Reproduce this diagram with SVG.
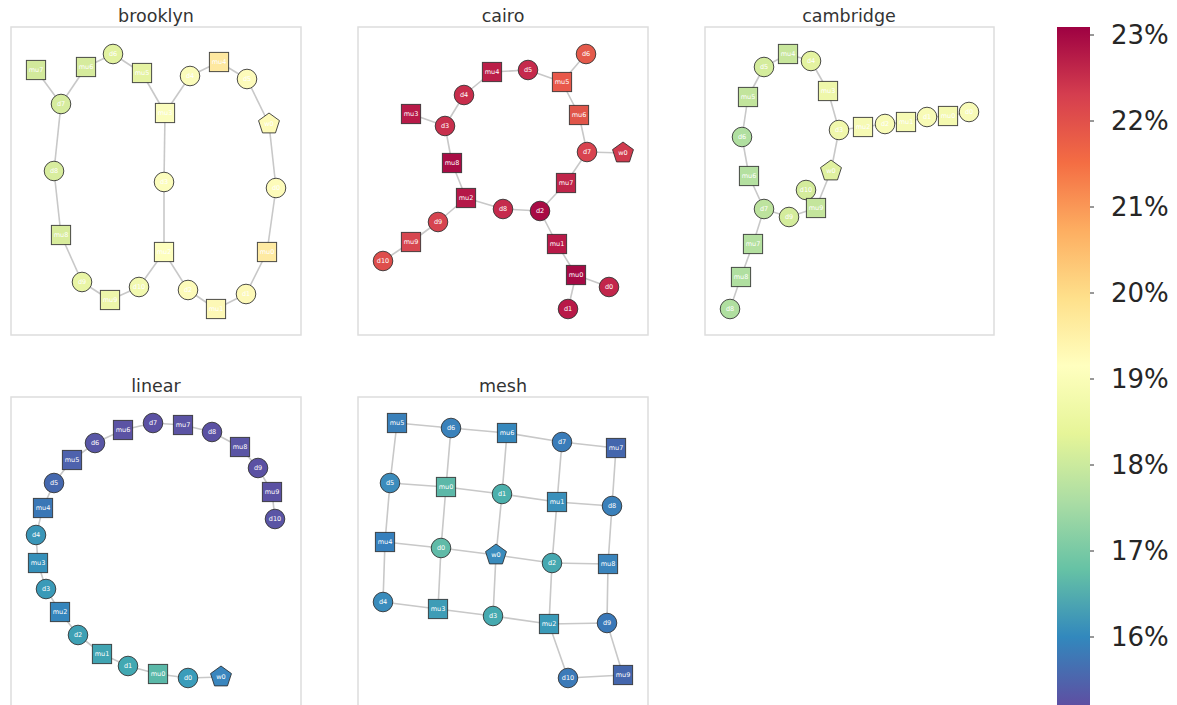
<svg xmlns="http://www.w3.org/2000/svg" width="1177" height="705" viewBox="0 0 1177 705">
<style>
.frame{fill:none;stroke:#dddddd;stroke-width:1.5}
.title{font-family:"DejaVu Sans",sans-serif;font-size:17.5px;fill:#333333;text-anchor:middle}
.e{stroke:#c8c8c8;stroke-width:1.6;fill:none}
.n use{stroke:#2b2b2b;stroke-width:1;stroke-opacity:0.85}
.n text{font-family:"DejaVu Sans",sans-serif;font-size:6.5px;fill:#ffffff;text-anchor:middle;dominant-baseline:central}
.tick{stroke:#333333;stroke-width:1}
.cbl{font-family:"DejaVu Sans",sans-serif;font-size:26px;fill:#262626}
</style>
<defs>
<rect id="sq" x="-9.6" y="-9.6" width="19.2" height="19.2"/>
<circle id="ci" r="9.8"/>
<polygon id="pe" points="0,-11 10.46,-3.4 6.47,8.9 -6.47,8.9 -10.46,-3.4"/>
<linearGradient id="spectral" gradientUnits="userSpaceOnUse" x1="0" y1="27" x2="0" y2="705">
<stop offset="0" stop-color="#9e0142"/>
<stop offset="0.1" stop-color="#d53e4f"/>
<stop offset="0.2" stop-color="#f46d43"/>
<stop offset="0.3" stop-color="#fdae61"/>
<stop offset="0.4" stop-color="#fee08b"/>
<stop offset="0.5" stop-color="#ffffbf"/>
<stop offset="0.6" stop-color="#e6f598"/>
<stop offset="0.7" stop-color="#abdda4"/>
<stop offset="0.8" stop-color="#66c2a5"/>
<stop offset="0.9" stop-color="#3288bd"/>
<stop offset="1" stop-color="#5e4fa2"/>
</linearGradient>
</defs>
<rect x="0" y="0" width="1177" height="705" fill="#ffffff"/>

<g id="panels">
<rect class="frame" x="11" y="27" width="290" height="308"/>
<text class="title" x="156" y="22">brooklyn</text>
<rect class="frame" x="358" y="27" width="290" height="308"/>
<text class="title" x="503" y="22">cairo</text>
<rect class="frame" x="705" y="27" width="289" height="308"/>
<text class="title" x="849" y="22">cambridge</text>
<rect class="frame" x="11" y="397" width="290" height="320"/>
<text class="title" x="156" y="392">linear</text>
<rect class="frame" x="358" y="397" width="290" height="320"/>
<text class="title" x="503" y="392">mesh</text>
</g>

<g id="connectors">
<!-- brooklyn -->
<line class="e" x1="36" y1="70" x2="61" y2="104"/>
<line class="e" x1="86" y1="67" x2="61" y2="104"/>
<line class="e" x1="86" y1="67" x2="113" y2="54"/>
<line class="e" x1="113" y1="54" x2="142" y2="73"/>
<line class="e" x1="142" y1="73" x2="165" y2="113"/>
<line class="e" x1="165" y1="113" x2="190" y2="76"/>
<line class="e" x1="190" y1="76" x2="219" y2="62"/>
<line class="e" x1="219" y1="62" x2="247" y2="79"/>
<line class="e" x1="247" y1="79" x2="269" y2="124"/>
<line class="e" x1="269" y1="124" x2="276" y2="188"/>
<line class="e" x1="276" y1="188" x2="267" y2="252"/>
<line class="e" x1="267" y1="252" x2="246" y2="294"/>
<line class="e" x1="246" y1="294" x2="216" y2="309"/>
<line class="e" x1="216" y1="309" x2="188" y2="290"/>
<line class="e" x1="188" y1="290" x2="164" y2="252"/>
<line class="e" x1="164" y1="252" x2="164" y2="182"/>
<line class="e" x1="164" y1="182" x2="165" y2="113"/>
<line class="e" x1="164" y1="252" x2="139" y2="287"/>
<line class="e" x1="139" y1="287" x2="110" y2="300"/>
<line class="e" x1="110" y1="300" x2="82" y2="282"/>
<line class="e" x1="82" y1="282" x2="61" y2="235"/>
<line class="e" x1="61" y1="235" x2="54" y2="171"/>
<line class="e" x1="54" y1="171" x2="61" y2="104"/>
<!-- cairo -->
<line class="e" x1="586" y1="54" x2="562" y2="82"/>
<line class="e" x1="562" y1="82" x2="528" y2="70"/>
<line class="e" x1="528" y1="70" x2="492" y2="72"/>
<line class="e" x1="492" y1="72" x2="464" y2="95"/>
<line class="e" x1="464" y1="95" x2="445" y2="126"/>
<line class="e" x1="445" y1="126" x2="411" y2="114"/>
<line class="e" x1="445" y1="126" x2="452" y2="163"/>
<line class="e" x1="452" y1="163" x2="466" y2="198"/>
<line class="e" x1="466" y1="198" x2="503" y2="209"/>
<line class="e" x1="503" y1="209" x2="540" y2="211"/>
<line class="e" x1="540" y1="211" x2="566" y2="183"/>
<line class="e" x1="566" y1="183" x2="587" y2="152"/>
<line class="e" x1="587" y1="152" x2="579" y2="115"/>
<line class="e" x1="579" y1="115" x2="562" y2="82"/>
<line class="e" x1="587" y1="152" x2="623" y2="153"/>
<line class="e" x1="540" y1="211" x2="557" y2="244"/>
<line class="e" x1="557" y1="244" x2="576" y2="275"/>
<line class="e" x1="576" y1="275" x2="609" y2="287"/>
<line class="e" x1="576" y1="275" x2="568" y2="309"/>
<line class="e" x1="466" y1="198" x2="438" y2="222"/>
<line class="e" x1="438" y1="222" x2="411" y2="242"/>
<line class="e" x1="411" y1="242" x2="383" y2="261"/>
<!-- cambridge -->
<line class="e" x1="788" y1="54" x2="764" y2="67"/>
<line class="e" x1="788" y1="54" x2="811" y2="61"/>
<line class="e" x1="811" y1="61" x2="828" y2="91"/>
<line class="e" x1="828" y1="91" x2="839" y2="130"/>
<line class="e" x1="839" y1="130" x2="863" y2="127"/>
<line class="e" x1="863" y1="127" x2="885" y2="124"/>
<line class="e" x1="885" y1="124" x2="906" y2="122"/>
<line class="e" x1="906" y1="122" x2="927" y2="117"/>
<line class="e" x1="927" y1="117" x2="948" y2="116"/>
<line class="e" x1="948" y1="116" x2="969" y2="112"/>
<line class="e" x1="764" y1="67" x2="748" y2="97"/>
<line class="e" x1="748" y1="97" x2="742" y2="137"/>
<line class="e" x1="742" y1="137" x2="749" y2="176"/>
<line class="e" x1="749" y1="176" x2="764" y2="209"/>
<line class="e" x1="764" y1="209" x2="789" y2="217"/>
<line class="e" x1="789" y1="217" x2="816" y2="208"/>
<line class="e" x1="816" y1="208" x2="831" y2="171"/>
<line class="e" x1="831" y1="171" x2="839" y2="130"/>
<line class="e" x1="816" y1="208" x2="806" y2="190"/>
<line class="e" x1="764" y1="209" x2="753" y2="244"/>
<line class="e" x1="753" y1="244" x2="741" y2="277"/>
<line class="e" x1="741" y1="277" x2="730" y2="309"/>
<!-- linear -->
<polyline class="e" points="221,677 188,678 158,674 128,666 102,654 78,635 60,612 46,589 38,563 36,535 43,508 54,483 72,460 95,443 123,430 153,423 183,425 212,432 240,447 258,468 272,492 275,519"/>
<!-- mesh -->
<polyline class="e" points="397,423 451,428 507,433 562,442 616,448"/>
<polyline class="e" points="390,483 446,487 502,494 557,502 612,506"/>
<polyline class="e" points="385,542 441,548 496,555 552,563 608,564"/>
<polyline class="e" points="383,602 438,609 493,616 549,624 607,623"/>
<line class="e" x1="568" y1="678" x2="623" y2="675"/>
<polyline class="e" points="397,423 390,483 385,542 383,602"/>
<polyline class="e" points="451,428 446,487 441,548 438,609"/>
<polyline class="e" points="507,433 502,494 496,555 493,616"/>
<polyline class="e" points="562,442 557,502 552,563 549,624 568,678"/>
<polyline class="e" points="616,448 612,506 608,564 607,623 623,675"/>
</g>

<g id="brooklyn-nodes" class="n">
<g id="brooklyn-mu7" transform="translate(36,70)"><use href="#sq" fill="#d2e99b"/><text>mu7</text></g>
<g id="brooklyn-mu6" transform="translate(86,67)"><use href="#sq" fill="#d6eb9d"/><text>mu6</text></g>
<g id="brooklyn-d6" transform="translate(113,54)"><use href="#ci" fill="#e2f2a0"/><text>d6</text></g>
<g id="brooklyn-mu5" transform="translate(142,73)"><use href="#sq" fill="#e5f3a2"/><text>mu5</text></g>
<g id="brooklyn-mu3" transform="translate(165,113)"><use href="#sq" fill="#fbfdbe"/><text>mu3</text></g>
<g id="brooklyn-d7" transform="translate(61,104)"><use href="#ci" fill="#d6ec9e"/><text>d7</text></g>
<g id="brooklyn-d8" transform="translate(54,171)"><use href="#ci" fill="#d8ed9e"/><text>d8</text></g>
<g id="brooklyn-mu8" transform="translate(61,235)"><use href="#sq" fill="#d8ec9c"/><text>mu8</text></g>
<g id="brooklyn-d9" transform="translate(82,282)"><use href="#ci" fill="#e9f5a5"/><text>d9</text></g>
<g id="brooklyn-mu9" transform="translate(110,300)"><use href="#sq" fill="#edf7aa"/><text>mu9</text></g>
<g id="brooklyn-d10" transform="translate(139,287)"><use href="#ci" fill="#f2f9b0"/><text>d10</text></g>
<g id="brooklyn-mu2" transform="translate(164,252)"><use href="#sq" fill="#fdfebe"/><text>mu2</text></g>
<g id="brooklyn-d3" transform="translate(164,182)"><use href="#ci" fill="#fcfdbd"/><text>d3</text></g>
<g id="brooklyn-d2" transform="translate(188,290)"><use href="#ci" fill="#fdfbba"/><text>d2</text></g>
<g id="brooklyn-mu1" transform="translate(216,309)"><use href="#sq" fill="#fdf8b6"/><text>mu1</text></g>
<g id="brooklyn-d1" transform="translate(246,294)"><use href="#ci" fill="#fdf9b8"/><text>d1</text></g>
<g id="brooklyn-mu0" transform="translate(267,252)"><use href="#sq" fill="#feeaa2"/><text>mu0</text></g>
<g id="brooklyn-d0" transform="translate(276,188)"><use href="#ci" fill="#fdfbba"/><text>d0</text></g>
<g id="brooklyn-w0" transform="translate(269,124)"><use href="#pe" fill="#fdfab8"/><text>w0</text></g>
<g id="brooklyn-d5" transform="translate(247,79)"><use href="#ci" fill="#fdfbbb"/><text>d5</text></g>
<g id="brooklyn-mu4" transform="translate(219,62)"><use href="#sq" fill="#fee8a0"/><text>mu4</text></g>
<g id="brooklyn-d4" transform="translate(190,76)"><use href="#ci" fill="#fbfcbb"/><text>d4</text></g>
</g>

<g id="cairo-nodes" class="n">
<g id="cairo-d6" transform="translate(586,54)"><use href="#ci" fill="#e45a4b"/><text>d6</text></g>
<g id="cairo-mu5" transform="translate(562,82)"><use href="#sq" fill="#e8584a"/><text>mu5</text></g>
<g id="cairo-d5" transform="translate(528,70)"><use href="#ci" fill="#c52a4c"/><text>d5</text></g>
<g id="cairo-mu4" transform="translate(492,72)"><use href="#sq" fill="#bb1e48"/><text>mu4</text></g>
<g id="cairo-d4" transform="translate(464,95)"><use href="#ci" fill="#c82e4c"/><text>d4</text></g>
<g id="cairo-mu3" transform="translate(411,114)"><use href="#sq" fill="#b81a48"/><text>mu3</text></g>
<g id="cairo-d3" transform="translate(445,126)"><use href="#ci" fill="#c8304d"/><text>d3</text></g>
<g id="cairo-mu8" transform="translate(452,163)"><use href="#sq" fill="#a90c45"/><text>mu8</text></g>
<g id="cairo-mu2" transform="translate(466,198)"><use href="#sq" fill="#b51848"/><text>mu2</text></g>
<g id="cairo-d8" transform="translate(503,209)"><use href="#ci" fill="#c52a4c"/><text>d8</text></g>
<g id="cairo-d2" transform="translate(540,211)"><use href="#ci" fill="#a80b44"/><text>d2</text></g>
<g id="cairo-mu7" transform="translate(566,183)"><use href="#sq" fill="#c0254a"/><text>mu7</text></g>
<g id="cairo-d7" transform="translate(587,152)"><use href="#ci" fill="#d8434f"/><text>d7</text></g>
<g id="cairo-w0" transform="translate(623,153)"><use href="#pe" fill="#d03a4e"/><text>w0</text></g>
<g id="cairo-mu6" transform="translate(579,115)"><use href="#sq" fill="#e05549"/><text>mu6</text></g>
<g id="cairo-mu1" transform="translate(557,244)"><use href="#sq" fill="#b81a48"/><text>mu1</text></g>
<g id="cairo-mu0" transform="translate(576,275)"><use href="#sq" fill="#a50a44"/><text>mu0</text></g>
<g id="cairo-d0" transform="translate(609,287)"><use href="#ci" fill="#c2264b"/><text>d0</text></g>
<g id="cairo-d1" transform="translate(568,309)"><use href="#ci" fill="#b81a48"/><text>d1</text></g>
<g id="cairo-d9" transform="translate(438,222)"><use href="#ci" fill="#d64450"/><text>d9</text></g>
<g id="cairo-mu9" transform="translate(411,242)"><use href="#sq" fill="#d74750"/><text>mu9</text></g>
<g id="cairo-d10" transform="translate(383,261)"><use href="#ci" fill="#de4e4c"/><text>d10</text></g>
</g>

<g id="cambridge-nodes" class="n">
<g id="cambridge-mu4" transform="translate(788,54)"><use href="#sq" fill="#c8e69c"/><text>mu4</text></g>
<g id="cambridge-d5" transform="translate(764,67)"><use href="#ci" fill="#d4ec9c"/><text>d5</text></g>
<g id="cambridge-d4" transform="translate(811,61)"><use href="#ci" fill="#e4f3a0"/><text>d4</text></g>
<g id="cambridge-mu3" transform="translate(828,91)"><use href="#sq" fill="#eef7aa"/><text>mu3</text></g>
<g id="cambridge-mu5" transform="translate(748,97)"><use href="#sq" fill="#c2e49c"/><text>mu5</text></g>
<g id="cambridge-d3" transform="translate(839,130)"><use href="#ci" fill="#f1f8ac"/><text>d3</text></g>
<g id="cambridge-mu2" transform="translate(863,127)"><use href="#sq" fill="#f6fab4"/><text>mu2</text></g>
<g id="cambridge-d2" transform="translate(885,124)"><use href="#ci" fill="#f8fbb6"/><text>d2</text></g>
<g id="cambridge-mu1" transform="translate(906,122)"><use href="#sq" fill="#f6fab4"/><text>mu1</text></g>
<g id="cambridge-d1" transform="translate(927,117)"><use href="#ci" fill="#f8fbb6"/><text>d1</text></g>
<g id="cambridge-mu0" transform="translate(948,116)"><use href="#sq" fill="#f4f9b0"/><text>mu0</text></g>
<g id="cambridge-d0" transform="translate(969,112)"><use href="#ci" fill="#f8fbb8"/><text>d0</text></g>
<g id="cambridge-d6" transform="translate(742,137)"><use href="#ci" fill="#b0dfa0"/><text>d6</text></g>
<g id="cambridge-w0" transform="translate(831,171)"><use href="#pe" fill="#e0f1a0"/><text>w0</text></g>
<g id="cambridge-mu6" transform="translate(749,176)"><use href="#sq" fill="#b4e0a0"/><text>mu6</text></g>
<g id="cambridge-d10" transform="translate(806,190)"><use href="#ci" fill="#d4ec9c"/><text>d10</text></g>
<g id="cambridge-mu9" transform="translate(816,208)"><use href="#sq" fill="#c4e59c"/><text>mu9</text></g>
<g id="cambridge-d7" transform="translate(764,209)"><use href="#ci" fill="#bde39e"/><text>d7</text></g>
<g id="cambridge-d9" transform="translate(789,217)"><use href="#ci" fill="#d4ec9c"/><text>d9</text></g>
<g id="cambridge-mu7" transform="translate(753,244)"><use href="#sq" fill="#b4e0a0"/><text>mu7</text></g>
<g id="cambridge-mu8" transform="translate(741,277)"><use href="#sq" fill="#b0dfa0"/><text>mu8</text></g>
<g id="cambridge-d8" transform="translate(730,309)"><use href="#ci" fill="#b0dfa0"/><text>d8</text></g>
</g>

<g id="linear-nodes" class="n">
<g id="linear-w0" transform="translate(221,677)"><use href="#pe" fill="#3a86be"/><text>w0</text></g>
<g id="linear-d0" transform="translate(188,678)"><use href="#ci" fill="#3a9cba"/><text>d0</text></g>
<g id="linear-mu0" transform="translate(158,674)"><use href="#sq" fill="#5ab8a8"/><text>mu0</text></g>
<g id="linear-d1" transform="translate(128,666)"><use href="#ci" fill="#42a8b2"/><text>d1</text></g>
<g id="linear-mu1" transform="translate(102,654)"><use href="#sq" fill="#40a4b2"/><text>mu1</text></g>
<g id="linear-d2" transform="translate(78,635)"><use href="#ci" fill="#3ea0b4"/><text>d2</text></g>
<g id="linear-mu2" transform="translate(60,612)"><use href="#sq" fill="#3585bc"/><text>mu2</text></g>
<g id="linear-d3" transform="translate(46,589)"><use href="#ci" fill="#3a9ab8"/><text>d3</text></g>
<g id="linear-mu3" transform="translate(38,563)"><use href="#sq" fill="#3690ba"/><text>mu3</text></g>
<g id="linear-d4" transform="translate(36,535)"><use href="#ci" fill="#3a96b8"/><text>d4</text></g>
<g id="linear-mu4" transform="translate(43,508)"><use href="#sq" fill="#3a77b6"/><text>mu4</text></g>
<g id="linear-d5" transform="translate(54,483)"><use href="#ci" fill="#4568ae"/><text>d5</text></g>
<g id="linear-mu5" transform="translate(72,460)"><use href="#sq" fill="#4e62ad"/><text>mu5</text></g>
<g id="linear-d6" transform="translate(95,443)"><use href="#ci" fill="#5957a6"/><text>d6</text></g>
<g id="linear-mu6" transform="translate(123,430)"><use href="#sq" fill="#5b53a4"/><text>mu6</text></g>
<g id="linear-d7" transform="translate(153,423)"><use href="#ci" fill="#5b51a3"/><text>d7</text></g>
<g id="linear-mu7" transform="translate(183,425)"><use href="#sq" fill="#5b53a4"/><text>mu7</text></g>
<g id="linear-d8" transform="translate(212,432)"><use href="#ci" fill="#5b51a3"/><text>d8</text></g>
<g id="linear-mu8" transform="translate(240,447)"><use href="#sq" fill="#5a55a5"/><text>mu8</text></g>
<g id="linear-d9" transform="translate(258,468)"><use href="#ci" fill="#5b51a3"/><text>d9</text></g>
<g id="linear-mu9" transform="translate(272,492)"><use href="#sq" fill="#5b51a3"/><text>mu9</text></g>
<g id="linear-d10" transform="translate(275,519)"><use href="#ci" fill="#5a55a5"/><text>d10</text></g>
</g>

<g id="mesh-nodes" class="n">
<g id="mesh-mu5" transform="translate(397,423)"><use href="#sq" fill="#3a80ba"/><text>mu5</text></g>
<g id="mesh-d6" transform="translate(451,428)"><use href="#ci" fill="#3a82bb"/><text>d6</text></g>
<g id="mesh-mu6" transform="translate(507,433)"><use href="#sq" fill="#3688bd"/><text>mu6</text></g>
<g id="mesh-d7" transform="translate(562,442)"><use href="#ci" fill="#3a7cb9"/><text>d7</text></g>
<g id="mesh-mu7" transform="translate(616,448)"><use href="#sq" fill="#4466ad"/><text>mu7</text></g>
<g id="mesh-d5" transform="translate(390,483)"><use href="#ci" fill="#3c8cbc"/><text>d5</text></g>
<g id="mesh-mu0" transform="translate(446,487)"><use href="#sq" fill="#5cb8a8"/><text>mu0</text></g>
<g id="mesh-d1" transform="translate(502,494)"><use href="#ci" fill="#4cb0ac"/><text>d1</text></g>
<g id="mesh-mu1" transform="translate(557,502)"><use href="#sq" fill="#3a90bb"/><text>mu1</text></g>
<g id="mesh-d8" transform="translate(612,506)"><use href="#ci" fill="#3a80ba"/><text>d8</text></g>
<g id="mesh-mu4" transform="translate(385,542)"><use href="#sq" fill="#3680bd"/><text>mu4</text></g>
<g id="mesh-d0" transform="translate(441,548)"><use href="#ci" fill="#60bba8"/><text>d0</text></g>
<g id="mesh-w0" transform="translate(496,555)"><use href="#pe" fill="#3a8cbd"/><text>w0</text></g>
<g id="mesh-d2" transform="translate(552,563)"><use href="#ci" fill="#46a8b0"/><text>d2</text></g>
<g id="mesh-mu8" transform="translate(608,564)"><use href="#sq" fill="#3a84bc"/><text>mu8</text></g>
<g id="mesh-d4" transform="translate(383,602)"><use href="#ci" fill="#3a8cbc"/><text>d4</text></g>
<g id="mesh-mu3" transform="translate(438,609)"><use href="#sq" fill="#3e9cb6"/><text>mu3</text></g>
<g id="mesh-d3" transform="translate(493,616)"><use href="#ci" fill="#46aab0"/><text>d3</text></g>
<g id="mesh-mu2" transform="translate(549,624)"><use href="#sq" fill="#3a9ab8"/><text>mu2</text></g>
<g id="mesh-d9" transform="translate(607,623)"><use href="#ci" fill="#3a78b8"/><text>d9</text></g>
<g id="mesh-d10" transform="translate(568,678)"><use href="#ci" fill="#3c7ab8"/><text>d10</text></g>
<g id="mesh-mu9" transform="translate(623,675)"><use href="#sq" fill="#4466ad"/><text>mu9</text></g>
</g>

<g id="colorbar">
<rect x="1057" y="27" width="33" height="678" fill="url(#spectral)"/>
<line class="tick" x1="1090" y1="35" x2="1094" y2="35"/>
<line class="tick" x1="1090" y1="121" x2="1094" y2="121"/>
<line class="tick" x1="1090" y1="207" x2="1094" y2="207"/>
<line class="tick" x1="1090" y1="293" x2="1094" y2="293"/>
<line class="tick" x1="1090" y1="379" x2="1094" y2="379"/>
<line class="tick" x1="1090" y1="465" x2="1094" y2="465"/>
<line class="tick" x1="1090" y1="551" x2="1094" y2="551"/>
<line class="tick" x1="1090" y1="637" x2="1094" y2="637"/>
<text class="cbl" x="1111" y="44">23%</text>
<text class="cbl" x="1111" y="130">22%</text>
<text class="cbl" x="1111" y="216">21%</text>
<text class="cbl" x="1111" y="302">20%</text>
<text class="cbl" x="1111" y="388">19%</text>
<text class="cbl" x="1111" y="474">18%</text>
<text class="cbl" x="1111" y="560">17%</text>
<text class="cbl" x="1111" y="646">16%</text>
</g>
</svg>
